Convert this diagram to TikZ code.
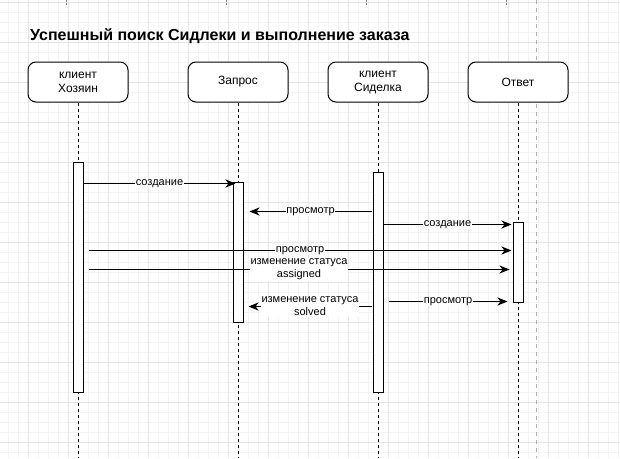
\documentclass[tikz,border=0pt]{standalone}
\usepackage{fontspec}
\setmainfont{Liberation Sans}
\usetikzlibrary{arrows.meta}
\definecolor{gridminor}{HTML}{F3F3F3}
\definecolor{gridmajor}{HTML}{E6E6E6}
\definecolor{pagegray}{HTML}{B0B0B0}
\tikzset{
  lifebox/.style={draw=black, line width=1pt, fill=white, rounded corners=8pt,
    minimum width=100pt, minimum height=40pt, align=center, inner sep=0pt,
    font=\fontsize{12}{14}\selectfont},
  actbar/.style={draw=black, line width=1pt, fill=white, minimum width=10pt, inner sep=0pt},
  lifeline/.style={draw=black, line width=1pt, dash pattern=on 3pt off 3pt},
  msg/.style={draw=black, line width=1pt, -{Stealth[length=10pt,width=8pt,inset=3pt]}},
  msglabel/.style={fill=white, inner sep=0.5pt, align=center, font=\fontsize{11}{13}\selectfont},
  titletext/.style={font=\bfseries\fontsize{16}{18}\selectfont, anchor=west, inner sep=0pt}
}
\begin{document}
\begin{tikzpicture}[x=1pt,y=-1pt]
\useasboundingbox (0,0) rectangle (620,458);
\fill[white] (0,0) rectangle (620,458);
% grid
\foreach \gx in {8,18,...,618} \draw[gridminor, line width=1pt] (\gx,0) -- (\gx,458);
\foreach \gy in {2,12,...,452} \draw[gridminor, line width=1pt] (0,\gy) -- (620,\gy);
\foreach \gx in {28,68,...,608} \draw[gridmajor, line width=1pt] (\gx,0) -- (\gx,458);
\foreach \gy in {2,42,...,442} \draw[gridmajor, line width=1pt] (0,\gy) -- (620,\gy);
% page break line
\coordinate (pgtop) at (536,0);
\coordinate (pgbot) at (536,458);
\draw[pagegray, line width=1pt, dash pattern=on 4pt off 4pt] (pgtop) -- (pgbot);
% stubs of lifelines from above
\foreach \sx/\nm in {66/sa,226/sb,366/sc,506/sd} {
  \coordinate (\nm1) at (\sx,0);
  \coordinate (\nm2) at (\sx,5);
  \draw[gray, line width=1pt, dash pattern=on 2pt off 1pt] (\nm1) -- (\nm2);
}
% title
\node[titletext] (title) at (30,36) {Успешный поиск Сидлеки и выполнение заказа};
% participants
\node[lifebox] (h) at (78,82) {клиент\\Хозяин};
\node[lifebox] (z) at (238,82) {Запрос};
\node[lifebox] (s) at (378,82) {клиент\\Сиделка};
\node[lifebox] (o) at (518,82) {Ответ};
% lifeline ends
\coordinate (hend) at (78,458);
\coordinate (zend) at (238,458);
\coordinate (send) at (378,458);
\coordinate (oend) at (518,458);
\draw[lifeline] (h.south) -- (hend);
\draw[lifeline] (z.south) -- (zend);
\draw[lifeline] (s.south) -- (send);
\draw[lifeline] (o.south) -- (oend);
% activation bars
\node[actbar, minimum height=230pt] (hb) at (78,277) {};
\node[actbar, minimum height=140pt] (zb) at (238,252) {};
\node[actbar, minimum height=220pt] (sb) at (378,282) {};
\node[actbar, minimum height=80pt] (ob) at (518,262) {};
% messages
\draw[msg] ([yshift=-22pt]hb.north east) -- ([xshift=3pt,yshift=-2pt]zb.north west)
  node[msglabel, midway] (m1) {создание};
\draw[msg] ([xshift=-1pt,yshift=-40pt]sb.north west) -- ([xshift=6pt,yshift=-30pt]zb.north east)
  node[msglabel, midway] (m2) {просмотр};
\draw[msg] ([yshift=-53pt]sb.north east) -- ([xshift=-1pt,yshift=-3pt]ob.north west)
  node[msglabel, midway] (m3) {создание};
\draw[msg] ([xshift=5pt,yshift=-89pt]hb.north east) -- ([xshift=-1pt,yshift=-29pt]ob.north west)
  node[msglabel, midway] (m4) {просмотр};
\draw[msg] ([xshift=5pt,yshift=-108pt]hb.north east) -- ([xshift=-3pt,yshift=-48pt]ob.north west)
  node[msglabel, midway] (m5) {изменение статуса\\assigned};
\draw[msg] ([xshift=-1pt,yshift=-135pt]sb.north west) -- ([xshift=5pt,yshift=-125pt]zb.north east)
  node[msglabel, midway] (m6) {изменение статуса\\solved};
\draw[msg] ([xshift=5pt,yshift=-130pt]sb.north east) -- ([xshift=-5pt,yshift=-80pt]ob.north west)
  node[msglabel, midway] (m7) {просмотр};
\end{tikzpicture}
\end{document}
